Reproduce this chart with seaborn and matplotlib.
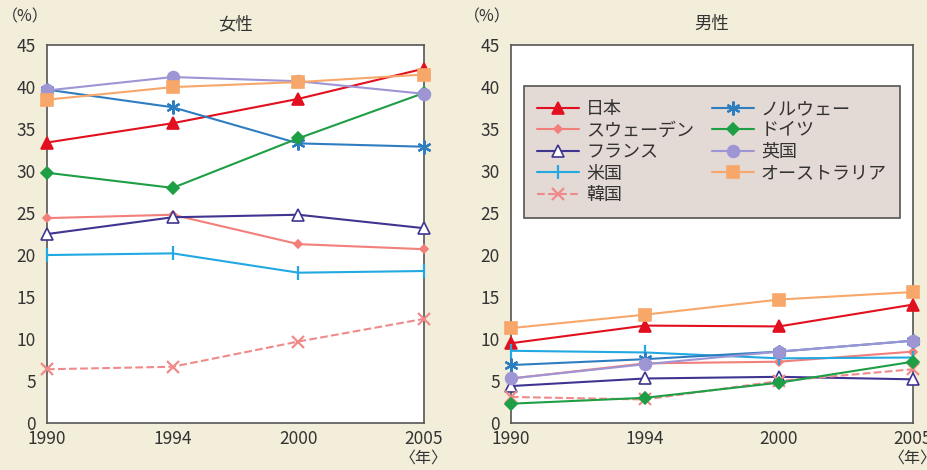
import matplotlib
matplotlib.use("Agg")
import matplotlib.pyplot as plt
import seaborn as sns
import pandas as pd

# Survey years (plotted at equal spacing)
years = ["1990", "1994", "2000", "2005"]

countries = ["日本", "スウェーデン", "フランス", "米国", "韓国",
             "ノルウェー", "ドイツ", "英国", "オーストラリア"]

# Share (%) – women
women_japan = [33.4, 35.7, 38.6, 42.2]
women_sweden = [24.4, 24.8, 21.3, 20.7]
women_france = [22.5, 24.5, 24.8, 23.2]
women_usa = [20.0, 20.2, 17.9, 18.1]
women_korea = [6.4, 6.7, 9.7, 12.4]
women_norway = [39.7, 37.6, 33.3, 32.9]
women_germany = [29.8, 28.0, 33.9, 39.3]
women_uk = [39.6, 41.2, 40.7, 39.2]
women_australia = [38.5, 40.0, 40.6, 41.5]

# Share (%) – men
men_japan = [9.5, 11.6, 11.5, 14.1]
men_sweden = [5.3, 7.1, 7.3, 8.5]
men_france = [4.4, 5.3, 5.5, 5.2]
men_usa = [8.6, 8.4, 7.7, 7.8]
men_korea = [3.1, 2.8, 5.0, 6.4]
men_norway = [6.9, 7.6, 8.5, 9.8]
men_germany = [2.3, 3.0, 4.8, 7.3]
men_uk = [5.3, 7.0, 8.5, 9.8]
men_australia = [11.3, 12.9, 14.7, 15.6]

women = [women_japan, women_sweden, women_france, women_usa, women_korea,
         women_norway, women_germany, women_uk, women_australia]
men = [men_japan, men_sweden, men_france, men_usa, men_korea,
       men_norway, men_germany, men_uk, men_australia]

colors = ["#E2101E", "#F27F7A", "#3F3591", "#22A9E1", "#F08A8A",
          "#2F7DC1", "#1E9E45", "#9D95D4", "#F8A76A"]
markers = ["^", "D", "^", "|", "x", (6, 2, 0), "D", "o", "s"]
msizes = [8, 4.5, 8, 10, 9, 10, 6, 8.5, 8.5]
faces = [None, None, "white", None, None, None, None, None, None]
dashed = [False, False, False, False, True, False, False, False, False]

rows = []
for sex, table in (("女性", women), ("男性", men)):
    for name, vals in zip(countries, table):
        for i, (yr, v) in enumerate(zip(years, vals)):
            rows.append({"sex": sex, "country": name, "pos": i,
                         "year": yr, "value": v})
df = pd.DataFrame(rows)

sns.set_theme(style="white")
plt.rcParams["font.family"] = ["Noto Sans CJK JP", "DejaVu Sans"]

fs = 12.5
txt = "#333333"
bg = "#F3EEDA"
fig = plt.figure(figsize=(9.27, 4.70), dpi=100, facecolor=bg)
ax_w = fig.add_axes([0.0507, 0.100, 0.4067, 0.804])
ax_m = fig.add_axes([0.5512, 0.100, 0.4337, 0.804])

for ax, sex in ((ax_w, "女性"), (ax_m, "男性")):
    sub = df[df["sex"] == sex]
    for k, name in enumerate(countries):
        d = sub[sub["country"] == name]
        sns.lineplot(data=d, x="pos", y="value", ax=ax, color=colors[k],
                     marker=markers[k], markersize=msizes[k],
                     markeredgewidth=1.6 if markers[k] in ("|", "x", (6, 2, 0)) else 1.2,
                     markeredgecolor=colors[k],
                     markerfacecolor=faces[k] if faces[k] else colors[k],
                     linewidth=1.5, linestyle="--" if dashed[k] else "-",
                     dashes=(5, 2) if dashed[k] else (None, None),
                     label=name, legend=False, clip_on=False, zorder=3)
    ax.set_facecolor("white")
    ax.set_xlim(0, len(years) - 1)
    ax.set_ylim(0, 45)
    ax.set_xticks(range(len(years)))
    ax.set_xticklabels(years)
    ax.set_yticks(range(0, 46, 5))
    ax.set_xlabel("")
    ax.set_ylabel("")
    ax.tick_params(direction="in", length=4, width=1, color="#555555",
                   labelsize=fs, labelcolor=txt)
    ax.tick_params(axis="y", pad=8)
    ax.tick_params(axis="x", pad=5)
    for sp in ax.spines.values():
        sp.set_color("#555555")
        sp.set_linewidth(1.2)

# Panel titles, unit and year labels
fig.text(235 / 927, 1 - 24 / 470, "女性", ha="center", va="center", fontsize=fs, color=txt)
fig.text(712 / 927, 1 - 24 / 470, "男性", ha="center", va="center", fontsize=fs, color=txt)
fig.text(2 / 927, 1 - 17 / 470, "（%）", ha="left", va="center", fontsize=fs - 1, color=txt)
fig.text(464 / 927, 1 - 17 / 470, "（%）", ha="left", va="center", fontsize=fs - 1, color=txt)
fig.text(424 / 927, 1 - 458 / 470, "〈年〉", ha="center", va="center", fontsize=fs - 1, color=txt)
fig.text(913 / 927, 1 - 458 / 470, "〈年〉", ha="center", va="center", fontsize=fs - 1, color=txt)

handles, labels = ax_m.get_legend_handles_labels()
leg = ax_m.legend(handles, labels, ncol=2, loc="upper left",
                  bbox_to_anchor=(0.032, 0.891),
                  frameon=True, fancybox=False, fontsize=13,
                  handlelength=2.3, handletextpad=0.4, labelspacing=0.2,
                  borderpad=0.75, columnspacing=1.0, borderaxespad=0)
frame = leg.get_frame()
frame.set_facecolor("#E3D9D5")
frame.set_edgecolor("#555555")
frame.set_linewidth(1.2)
frame.set_alpha(1)
for t in leg.get_texts():
    t.set_color(txt)

fig.savefig("out.png", dpi=100, facecolor=bg)
